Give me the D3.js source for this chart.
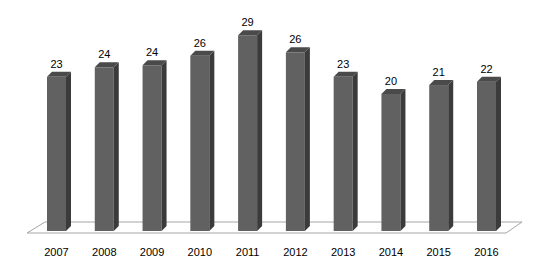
<!DOCTYPE html>
<html>
<head>
<meta charset="utf-8">
<script src="https://cdn.jsdelivr.net/npm/d3@7"></script>
<style>
  body { margin: 0; background: #fff; }
  text { font-family: "Liberation Sans", Arial, sans-serif; font-size: 11px; fill: #000; }
</style>
</head>
<body>
<svg width="551" height="270"></svg>
<script>
const years = ['2007', '2008', '2009', '2010', '2011', '2012', '2013', '2014', '2015', '2016'];
// bar heights; labels show them rounded
const values = [22.6, 24.0, 24.3, 25.7, 28.7, 26.2, 22.6, 20.1, 21.4, 21.9];

const svg = d3.select('svg');

// 3d depth of bars
const dx = 5, dy = 5;
const barW = 19;

const x = d3.scalePoint()
  .domain(years)
  .range([56.5, 486.5]);

const y = d3.scaleLinear()
  .domain([0, 30])
  .range([231, 26.4]);

const fmt = d3.format('.0f');

// floor
svg.append('path')
  .attr('d', 'M27,233 L45,222 L522,222 L506,233 Z')
  .attr('fill', '#fff')
  .attr('stroke', '#a6a6a6')
  .attr('stroke-width', 1);

const bars = svg.selectAll('g.bar')
  .data(years.map((yr, i) => ({ yr, v: values[i] })))
  .join('g')
  .attr('class', 'bar');

// front face
bars.append('rect')
  .attr('x', d => x(d.yr) - barW / 2)
  .attr('y', d => y(d.v))
  .attr('width', barW)
  .attr('height', d => y(0) - y(d.v))
  .attr('fill', '#616161');

// side face
bars.append('path')
  .attr('d', d => {
    const x1 = x(d.yr) + barW / 2;
    return `M${x1},${y(d.v)} L${x1 + dx},${y(d.v) - dy} L${x1 + dx},${y(0) - dy} L${x1},${y(0)} Z`;
  })
  .attr('fill', '#3b3b3b');

// top face
bars.append('path')
  .attr('d', d => {
    const x0 = x(d.yr) - barW / 2;
    const t = y(d.v);
    return `M${x0},${t} L${x0 + dx},${t - dy} L${x0 + barW + dx},${t - dy} L${x0 + barW},${t} Z`;
  })
  .attr('fill', '#4a4a4a');

// value labels
bars.append('text')
  .attr('x', d => x(d.yr))
  .attr('y', d => y(d.v) - 9)
  .attr('text-anchor', 'middle')
  .text(d => fmt(d.v));

// year labels
svg.selectAll('text.year')
  .data(years)
  .join('text')
  .attr('class', 'year')
  .attr('x', d => x(d))
  .attr('y', 256)
  .attr('text-anchor', 'middle')
  .text(d => d);
</script>
</body>
</html>
